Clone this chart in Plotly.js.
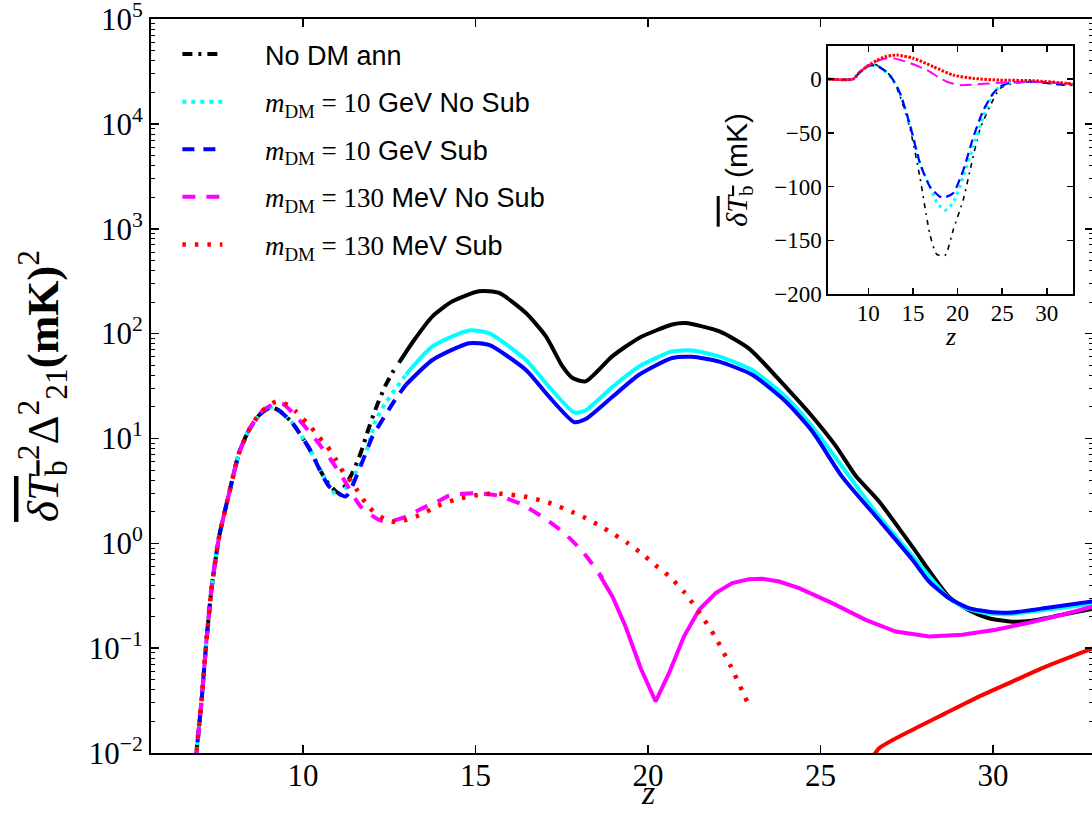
<!DOCTYPE html>
<html><head><meta charset="utf-8">
<script src="https://cdn.plot.ly/plotly-3.0.1.min.js"></script>
<style>html,body{margin:0;padding:0;overflow:hidden;background:#fff}#plot{width:1100px;height:813px}</style>
</head><body><div id="plot"></div><script>
// ---------- main panel: power (mK^2) vs z ----------
// No DM ann
const noDM_z_pos = [6.88,6.95,7.05,7.2,7.35,7.565,7.855,8.145,8.435,8.75,9.06,9.3,9.69,10.17,10.66,11.04,11.43,11.67,11.92,12.15,12.40,12.69];
const noDM_v_pos = [0.008,0.014,0.03,0.12,0.38,1.16,3.0,7.3,12.1,17,19.8,18.5,14.0,8.1,4.0,3.0,4.7,7.3,13,21,32.6,48.6];
const noDM_z_neg = [12.78,13.2,13.75,14.33,15.1,15.68,16.46,17.04,17.52,17.81,18.19,18.96,19.74,20.70,21.09,22.07,22.93,23.99,24.76,25.44,26.02,26.70,27.66,28.72,29.30,29.88,30.55,31.13,32.0,32.9];
const noDM_v_neg = [52.7,85,146,203,253,244,157,94,48.6,37.7,35,60.6,91,122,126,105,72,31,16.2,8.5,4.4,2.5,0.93,0.31,0.23,0.193,0.179,0.183,0.208,0.237];
// m_DM = 10 GeV No Sub
const gevNS_z_pos = [6.88,6.95,7.05,7.2,7.35,7.565,7.855,8.145,8.435,8.75,9.06,9.3,9.69,10.17,10.66,11.0,11.4,11.82,12.11,12.40,12.69,12.98];
const gevNS_v_pos = [0.008,0.014,0.03,0.12,0.38,1.16,3.0,7.3,12.1,17,19.8,18.5,14.0,8.1,4.0,2.8,4.0,7.3,15,22,30,40.5];
const gevNS_z_neg = [12.98,13.75,14.81,15.39,16.46,17.13,17.86,18.19,18.97,19.74,20.70,21.28,22.06,23.02,23.99,24.76,25.78,26.70,27.66,28.72,29.30,29.98,30.56,31.53,32.9];
const gevNS_v_neg = [40.5,75.5,107,101,56,31,17.7,18.5,31,48.6,67.6,69,60.6,45,25,13,4.6,1.8,0.76,0.30,0.235,0.213,0.212,0.232,0.265];
// m_DM = 10 GeV Sub
const gevS_z_pos = [6.88,6.95,7.05,7.2,7.35,7.565,7.855,8.145,8.435,8.75,9.06,9.3,9.69,10.17,10.75,11.24,11.62,12.01,12.40,12.69,12.98];
const gevS_v_pos = [0.008,0.014,0.03,0.12,0.38,1.16,3.0,7.3,12.1,17,19.8,18.5,14.0,8.1,3.5,2.8,5.0,10.4,17,24,32.5];
const gevS_z_neg = [12.98,13.75,14.81,15.39,16.46,17.13,17.86,18.19,18.97,19.74,20.70,21.28,22.06,23.02,23.99,24.76,25.63,26.70,27.66,28.15,28.72,29.30,29.98,30.56,31.53,32.9];
const gevS_v_neg = [32.5,56,81,78,45,25,14.3,15.3,25,40.5,58.5,60,54,40.5,22.5,11.7,4.3,1.66,0.70,0.43,0.30,0.241,0.22,0.219,0.241,0.28];
// m_DM = 130 MeV No Sub
const mevNS_z_pos = [6.88,6.95,7.05,7.2,7.35,7.565,7.855,8.145,8.435,8.75,9.1,9.4,9.88,10.37,10.80,11.19,11.67,12.20,12.49,12.98,13.56,13.85,14.23,14.96,15.68,16.36,16.99,17.57,18.10,18.68];
const mevNS_v_pos = [0.008,0.014,0.03,0.12,0.38,1.16,3.0,7.3,12.1,17.5,21,21.5,15.1,9.7,6.3,4.0,2.24,1.67,1.61,1.80,2.24,2.45,2.84,3.01,2.84,2.33,1.74,1.25,0.835,0.466];
const mevNS_z_neg = [18.58,18.97,19.35,19.79,20.22,20.61,21.04,21.48,21.96,22.44,22.93,23.31,23.80,24.38,25.34,26.31,27.18,28.15,29.11,30.08,31.04,32.01,32.9];
const mevNS_v_neg = [0.51,0.31,0.16,0.064,0.031,0.058,0.129,0.232,0.335,0.417,0.455,0.458,0.432,0.374,0.269,0.186,0.144,0.129,0.134,0.150,0.175,0.208,0.25];
// m_DM = 130 MeV Sub
const mevS_z_pos = [6.88,6.95,7.05,7.2,7.35,7.565,7.855,8.145,8.435,8.75,9.21,9.40,9.61,9.79,10.24,10.46,10.70,10.95,11.17,11.43,11.91,12.40,12.72,12.98,13.27,13.57,13.85,14.46,15.08,15.39,15.73,16.41,17.11,17.83,18.19,18.60,18.99,19.38,19.79,20.21,20.63,21.07,21.52,21.96,22.41,22.89];
const mevS_v_pos = [0.008,0.014,0.03,0.12,0.38,1.16,3.0,7.3,12.1,17.5,22.5,22,20.5,18.1,12.7,10.3,8.4,6.3,4.7,3.75,2.2,1.67,1.59,1.67,1.80,1.99,2.24,2.64,2.90,2.97,2.97,2.80,2.45,1.97,1.74,1.47,1.23,1.02,0.81,0.62,0.48,0.335,0.212,0.126,0.066,0.030];
const mevS_z_neg = [26.40,26.70,27.66,28.63,29.59,30.56,31.53,32.9];
const mevS_v_neg = [0.008,0.0111,0.0166,0.024,0.0345,0.048,0.0667,0.1];

// ---------- inset: mean brightness temperature (mK) vs z ----------
const in_noDM_z = [5.5,8.3,9.0,9.8,10.8,11.8,12.63,13.56,14.68,15.8,16.92,17.67,18.6,19.53,20.65,21.4,22.5,23.65,24.77,26.27,28.5,32.9];
const in_noDM_v = [0,0,6,11.5,13.5,8,2,-16,-46,-92,-145,-163,-164,-140,-112,-85,-47,-25,-8.7,-4,-2.5,-4.5];
const in_gevNS_z = [5.5,8.3,9.0,9.8,10.8,11.8,12.63,13.56,14.68,15.8,16.9,17.7,18.6,19.5,20.65,21.78,22.9,24.0,24.77,25.9,28.5,32.9];
const in_gevNS_v = [0,0,6,11.5,13,8,1,-13.3,-43,-78.5,-100,-115,-122,-115,-91,-62.5,-35,-13,-7,-3.5,-2.5,-6];
const in_gevS_z = [5.5,8.3,9.0,9.8,10.8,11.8,12.63,13.56,14.68,15.8,16.9,18.05,18.6,19.53,20.65,21.78,22.9,24.0,24.77,25.9,28.5,32.25,32.9];
const in_gevS_v = [0,0,6,11.5,13,8,1,-13.3,-43,-78.5,-100,-109.6,-110,-106,-84.7,-53.7,-28.9,-13.3,-7.1,-3.4,-2.5,-5.6,-5];
const in_mevNS_z = [5.5,8.3,9.0,9.8,10.8,12.06,13.0,14.3,16.55,17.8,18.8,20.28,22.16,24.77,28.5,32.9];
const in_mevNS_v = [0,0,6,11.5,16,19.3,19,16,8.4,2,-2.5,-5.6,-5,-3.4,-2.5,-4.5];
const in_mevS_z = [5.5,8.3,9.0,10.0,11.0,12.0,13.2,15.05,17.3,19.5,21.8,24.77,28.5,32.25,32.9];
const in_mevS_v = [0,0,6,12.5,17.5,21,22.3,19.3,11.5,3.7,0.6,-1,-1.5,-4,-4.5];

// ---------- ticks ----------
const yTickVals = [1e-2,1e-1,1e0,1e1,1e2,1e3,1e4,1e5];
const yTickText = ['10<sup>\u22122</sup>','10<sup>\u22121</sup>','10<sup>0</sup>','10<sup>1</sup>','10<sup>2</sup>','10<sup>3</sup>','10<sup>4</sup>','10<sup>5</sup>'];
const xTickVals = [10,15,20,25,30];
const inYTickVals = [0,-50,-100,-150,-200];

const serif = 'Liberation Serif, DejaVu Serif, serif';
const sans = 'Liberation Sans, Arial, sans-serif';
const pad = '\u00A0\u00A0\u00A0\u00A0\u00A0';
const mdm = pad + '<span style="font-family:Liberation Serif"><i>m</i><sub>DM</sub> = ';

const minorVals = [];
for (let e = -2; e < 5; e++) for (let k = 2; k <= 9; k++) minorVals.push(k * Math.pow(10, e));

const series = [
  {name:pad + 'No DM ann', g:'a', color:'black', zp:noDM_z_pos, vp:noDM_v_pos, zn:noDM_z_neg, vn:noDM_v_neg, dash:'10px,6px,3px,6px', w:4, shape:'spline',
   iz:in_noDM_z, iv:in_noDM_v, idash:'5px,5px,2px,5px', iw:1.6},
  {name: mdm + '10</span> GeV No Sub', g:'b', color:'#00ffff', zp:gevNS_z_pos, vp:gevNS_v_pos, zn:gevNS_z_neg, vn:gevNS_v_neg, dash:'4px,5px', w:4, shape:'spline',
   iz:in_gevNS_z, iv:in_gevNS_v, idash:'3px,4px', iw:3},
  {name: mdm + '10</span> GeV Sub', g:'c', color:'#0000ff', zp:gevS_z_pos, vp:gevS_v_pos, zn:gevS_z_neg, vn:gevS_v_neg, dash:'12px,9px', w:4, shape:'spline',
   iz:in_gevS_z, iv:in_gevS_v, idash:'9px,5px', iw:2.2},
  {name: mdm + '130</span> MeV No Sub', g:'d', color:'#ff00ff', zp:mevNS_z_pos, vp:mevNS_v_pos, zn:mevNS_z_neg, vn:mevNS_v_neg, dash:'13px,11px', w:4, shape:'linear',
   iz:in_mevNS_z, iv:in_mevNS_v, idash:'12px,6px', iw:2},
  {name: mdm + '130</span> MeV Sub', g:'e', color:'#ff0000', zp:mevS_z_pos, vp:mevS_v_pos, zn:mevS_z_neg, vn:mevS_v_neg, dash:'3.5px,9px', w:4.5, shape:'spline',
   iz:in_mevS_z, iv:in_mevS_v, idash:'2.5px,1.5px', iw:3}
];

const traces = [];
series.forEach(s => {
  traces.push({x:s.zp, y:s.vp, type:'scatter', mode:'lines', name:s.name, legendgroup:s.g,
    line:{color:s.color, width:s.w, dash:s.dash, shape:'spline', smoothing:0.6}, xaxis:'x', yaxis:'y'});
  traces.push({x:s.zn, y:s.vn, type:'scatter', mode:'lines', name:s.name, legendgroup:s.g, showlegend:false,
    line:{color:s.color, width:4, dash:'solid', shape:s.shape, smoothing:0.6}, xaxis:'x', yaxis:'y'});
});
series.forEach(s => {
  traces.push({x:s.iz, y:s.iv, type:'scatter', mode:'lines', name:s.name, legendgroup:s.g, showlegend:false,
    line:{color:s.color, width:s.iw, dash:s.idash, shape:'spline', smoothing:0.6}, xaxis:'x2', yaxis:'y2'});
});

const axBase = {showline:true, linewidth:2, linecolor:'black', mirror:'allticks', ticks:'inside',
  tickcolor:'black', tickwidth:1.5, showgrid:false, zeroline:false, automargin:false, ticklabeloverflow:'allow'};

const layout = {
  width:1100, height:813,
  margin:{l:151, r:7, t:19, b:60},
  paper_bgcolor:'white', plot_bgcolor:'white',
  font:{family:serif, color:'black'},
  showlegend:true,
  legend:{x:0.028, y:0.985, xanchor:'left', yanchor:'top', bgcolor:'rgba(0,0,0,0)', borderwidth:0,
    font:{family:sans, size:27, color:'black'}, traceorder:'grouped', tracegroupgap:9.5, itemwidth:40},
  xaxis:Object.assign({}, axBase, {domain:[0,1], range:[5.59,32.9], tickmode:'array', tickvals:xTickVals, ticklen:8,
    ticklabelstandoff:-6, tickfont:{family:serif, size:31, color:'black'}}),
  yaxis:Object.assign({}, axBase, {type:'log', domain:[0,1], range:[-2,5.0005], tickmode:'array', tickvals:yTickVals, ticktext:yTickText, ticklen:8,
    tickfont:{family:serif, size:31, color:'black'},
    minor:{tickmode:'array', tickvals:minorVals, ticks:'inside', ticklen:4, tickcolor:'black', tickwidth:1},
    title:{text:'<span style="text-decoration:overline"><i>δT</i><sub>b</sub></span><sup>2</sup>Δ<sup>2</sup><sub>21</sub><b>(mK)</b><sup>2</sup>',
      font:{family:serif, size:45, color:'black'}, standoff:16}}),
  xaxis2:Object.assign({}, axBase, {domain:[0.719,0.9785], anchor:'y2', range:[5.52,32.91], tickmode:'array', tickvals:xTickVals, ticklen:6,
    ticklabelstandoff:-3, tickfont:{family:serif, size:23, color:'black'}}),
  yaxis2:Object.assign({}, axBase, {domain:[0.6253,0.9636], anchor:'x2', range:[-200,31], tickmode:'array', tickvals:inYTickVals, ticklen:6,
    tickfont:{family:serif, size:23, color:'black'},
    title:{text:'<span style="text-decoration:overline"><i>δT</i><sub>b</sub></span> <span style="font-family:Liberation Sans">(mK)</span>',
      font:{family:serif, size:30, color:'black'}, standoff:18}}),
  annotations:[
    {xref:'paper', yref:'paper', x:0.5276, y:(753-813)/734, xanchor:'center', yanchor:'bottom', showarrow:false,
     text:'<i>z</i>', font:{family:serif, size:34, color:'black'}},
    {xref:'x2 domain', yref:'paper', x:0.5, y:(753-353)/734, xanchor:'center', yanchor:'bottom', showarrow:false,
     text:'<i>z</i>', font:{family:serif, size:26, color:'black'}}
  ]
};

Plotly.newPlot('plot', traces, layout, {displayModeBar:false, staticPlot:true});
</script></body></html>
